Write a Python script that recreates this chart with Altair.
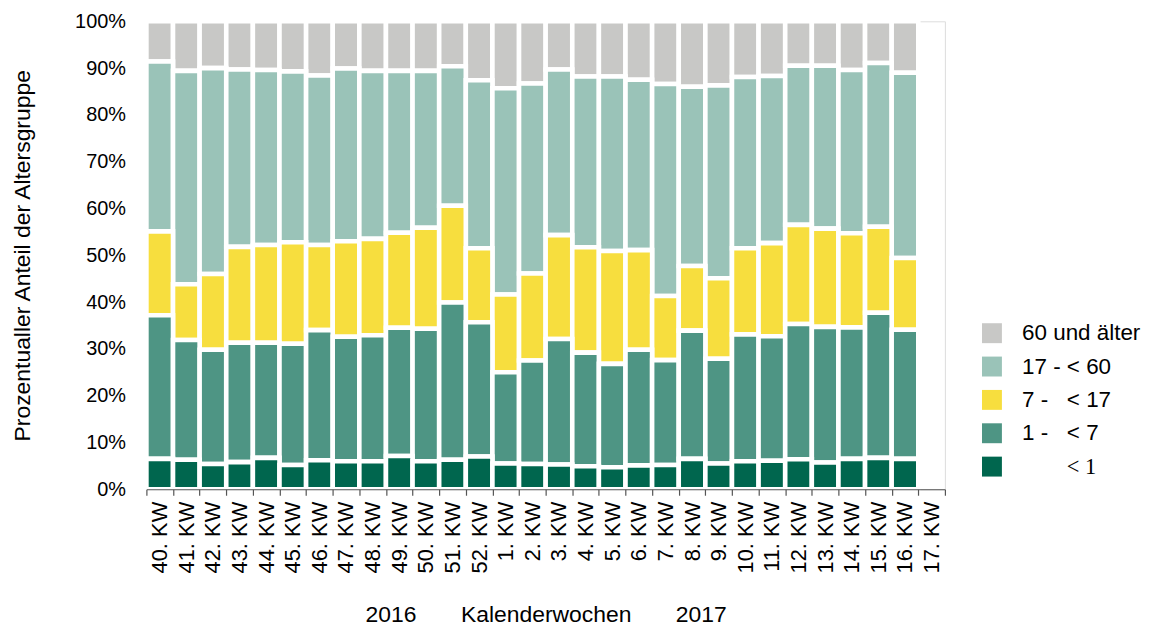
import altair as alt
import pandas as pd

weeks = ["40. KW", "41. KW", "42. KW", "43. KW", "44. KW", "45. KW", "46. KW",
         "47. KW", "48. KW", "49. KW", "50. KW", "51. KW", "52. KW",
         "1. KW", "2. KW", "3. KW", "4. KW", "5. KW", "6. KW", "7. KW", "8. KW",
         "9. KW", "10. KW", "11. KW", "12. KW", "13. KW", "14. KW", "15. KW",
         "16. KW", "17. KW"]

NB = "\u00a0"
series = ["60 und älter", "17 - < 60", "7 -" + NB * 3 + "< 17",
          "1 -" + NB * 3 + "< 7", "< 1"]
colors = ["#C8C8C6", "#9AC3B8", "#F7DE3E", "#4E9584", "#00664E"]

# shares in percent per week (week 17 has no data)
lt1 = [6.5, 6.3, 5.4, 5.8, 6.7, 5.2, 6.2, 6.0, 6.0, 7.1, 6.0, 6.3, 7.0,
       5.5, 5.4, 5.3, 4.9, 4.7, 5.1, 5.2, 6.5, 5.5, 6.0, 6.1, 6.4, 5.7, 6.5, 6.7, 6.5]
a1_7 = [30.7, 25.6, 24.4, 25.5, 24.6, 25.9, 27.8, 26.6, 26.9, 27.4, 28.3, 33.6, 28.7,
        19.5, 22.1, 26.8, 24.3, 22.1, 24.7, 22.4, 27.4, 22.4, 27.1, 26.6, 28.9, 29.0, 28.1, 31.0, 27.6]
a7_17 = [17.9, 11.9, 16.2, 20.5, 20.9, 21.7, 18.2, 20.4, 20.6, 20.3, 21.6, 20.7, 15.8,
         16.6, 18.6, 22.2, 22.5, 24.1, 21.3, 13.7, 13.8, 17.2, 18.4, 19.9, 21.2, 21.0, 20.1, 18.4, 15.3]
a17_60 = [36.3, 45.6, 44.0, 37.9, 37.4, 36.5, 36.2, 36.9, 35.9, 34.6, 33.5, 29.8, 35.9,
          44.1, 40.6, 35.4, 36.5, 37.3, 36.4, 45.3, 38.3, 41.2, 36.6, 35.7, 34.0, 34.8, 34.9, 35.0, 39.6]
a60 = [8.6, 10.6, 10.0, 10.3, 10.4, 10.7, 11.6, 10.1, 10.6, 10.6, 10.6, 9.6, 12.6,
       14.3, 13.3, 10.3, 11.8, 11.8, 12.5, 13.4, 14.0, 13.7, 11.9, 11.7, 9.5, 9.5, 10.4, 8.9, 11.0]

values_by_series = [a60, a17_60, a7_17, a1_7, lt1]
rows = []
for si, (name, vals) in enumerate(zip(series, values_by_series)):
    for wi, v in enumerate(vals):
        rows.append({"Woche": weeks[wi], "Gruppe": name, "Anteil": v,
                     "Ordnung": len(series) - si})
df = pd.DataFrame(rows)

FONT = "Liberation Sans"
indent = "\u200b" + NB * 8

chart = alt.Chart(df).mark_bar(stroke="white", strokeWidth=4.6).encode(
    x=alt.X("Woche:N", sort=weeks,
            scale=alt.Scale(domain=weeks, paddingInner=0, paddingOuter=0),
            axis=alt.Axis(title="2016" + NB * 7 + "Kalenderwochen" + NB * 7 + "2017",
                          labelAngle=-90, labelFontSize=22, labelFont=FONT,
                          labelColor="#000000", labelPadding=6,
                          tickBand="extent", tickSize=6, tickColor="#555555",
                          domainColor="#555555", domainWidth=1.2, tickWidth=1.2,
                          titleFont=FONT, titleFontSize=23, titleFontWeight="normal",
                          titleColor="#000000", titlePadding=31, zindex=1)),
    y=alt.Y("Anteil:Q", stack="normalize",
            scale=alt.Scale(domain=[0, 1], nice=False),
            axis=alt.Axis(title="Prozentualler Anteil der Altersgruppe",
                          format=".0%", values=[i / 10 for i in range(11)],
                          labelFontSize=20, labelFont=FONT, labelColor="#000000",
                          ticks=False, domain=False, grid=False, labelPadding=21,
                          titleFont=FONT, titleFontSize=23, titleFontWeight="normal",
                          titleColor="#000000", titlePadding=40)),
    color=alt.Color("Gruppe:N",
                    scale=alt.Scale(domain=series, range=colors),
                    legend=alt.Legend(title=None, orient="none", legendX=838, legendY=302,
                                      symbolType="square", symbolSize=400,
                                      symbolStrokeWidth=0, symbolOpacity=1,
                                      labelFontSize=22.5,
                                      labelExpr="datum.value == '< 1' ? '" + indent + "< 1' : datum.label",
                                      labelFont={"expr": "datum.value == '< 1' ? 'Liberation Serif' : 'Liberation Sans'"},
                                      labelColor="#000000", labelOffset=19,
                                      rowPadding=10.5, labelLimit=300)),
    order=alt.Order("Ordnung:Q", sort="ascending"),
).properties(
    width=802, height=470,
    padding={"left": 139, "top": 12, "right": 208, "bottom": 139},
    autosize=alt.AutoSizeParams(type="none"),
).configure_view(stroke=None).configure(font=FONT)

chart.save("out.html", embed_options={"renderer": "svg", "actions": False})
